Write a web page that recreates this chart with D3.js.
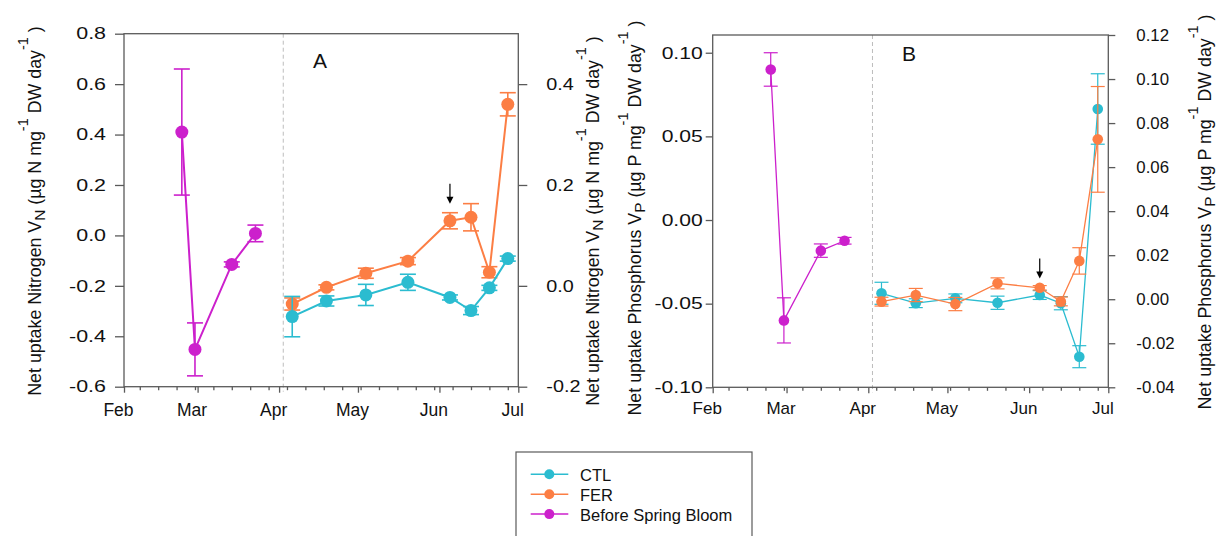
<!DOCTYPE html>
<html><head><meta charset="utf-8">
<script src="https://cdn.jsdelivr.net/npm/d3@7"></script>
<style>
body{margin:0;background:#fff;}
svg{display:block;font-family:"Liberation Sans",Arial,sans-serif;}
</style></head><body>
<svg id="chart" width="1223" height="536"></svg>
<script>
// ---------------- DATA ----------------
const monthTicks = ["2015-02-01","2015-03-01","2015-04-01","2015-05-01","2015-06-01","2015-07-01"];
const bloomDates = ["2015-02-23","2015-02-28","2015-03-14","2015-03-23"];
const expDates = ["2015-04-06","2015-04-19","2015-05-04","2015-05-20","2015-06-05","2015-06-13","2015-06-20","2015-06-27"];
const fertStart = "2015-04-02T14:00:00Z";
const arrowIndex = 4;

const seriesNames = ["CTL","FER","Before Spring Bloom"];

// Panel A – nitrogen
const bloomN    = [0.410, -0.452, -0.115, 0.008];
const bloomNErr = [0.250, 0.105, 0.010, 0.033];
const ctlN      = [-0.061, -0.030, -0.018, 0.007, -0.023, -0.049, -0.004, 0.054];
const ctlNErr   = [0.040, 0.010, 0.021, 0.016, 0.005, 0.008, 0.005, 0.005];
const ferN      = [-0.036, -0.003, 0.025, 0.049, 0.129, 0.136, 0.027, 0.360];
const ferNErr   = [0.012, 0.005, 0.010, 0.007, 0.016, 0.027, 0.011, 0.023];

// Panel B – phosphorus
const bloomP    = [0.090, -0.060, -0.0183, -0.0124];
const bloomPErr = [0.010, 0.0135, 0.004, 0.002];
const ctlP      = [0.0027, -0.0018, 0.0004, -0.0016, 0.0019, -0.0018, -0.0261, 0.0864];
const ctlPErr   = [0.005, 0.002, 0.002, 0.003, 0.002, 0.003, 0.005, 0.016];
const ferP      = [-0.0011, 0.0019, -0.0022, 0.0072, 0.0052, -0.0010, 0.0174, 0.0726];
const ferPErr   = [0.002, 0.003, 0.003, 0.0025, 0.001, 0.002, 0.006, 0.024];

const nLeftTicks  = [-0.6,-0.4,-0.2,0,0.2,0.4,0.6,0.8];
const nRightTicks = [-0.2,0,0.2,0.4];
const pLeftTicks  = [-0.10,-0.05,0,0.05,0.10];
const pRightTicks = [-0.04,-0.02,0,0.02,0.04,0.06,0.08,0.10,0.12];

// ---------------- STYLE ----------------
const C_CTL = "#2bbcd0", C_FER = "#fc7e44", C_BLOOM = "#cc20cc";
const AX = "#5a5a5a";
const loc = d3.formatLocale({decimal:".", thousands:",", grouping:[3], currency:["",""], minus:"-"});
const svg = d3.select("#chart");
const P = s => new Date(s.length > 10 ? s : s + "T00:00:00Z");

function drawPanel(cfg) {
  const x = d3.scaleUtc().domain([P(monthTicks[0]), P(monthTicks[monthTicks.length-1])]).range([cfg.x0, cfg.x1]);
  const yL = d3.scaleLinear().domain(cfg.left).range([cfg.y1, cfg.y0]);
  const yR = d3.scaleLinear().domain(cfg.right).range([cfg.y1, cfg.y0]);
  const g = svg.append("g");

  // dashed line (start of experiment)
  g.append("line").attr("x1", x(P(fertStart))).attr("x2", x(P(fertStart)))
    .attr("y1", cfg.y0).attr("y2", cfg.y1 + 5)
    .attr("stroke", "#bdbdbd").attr("stroke-width", 1).attr("stroke-dasharray", "4,3");

  // frame
  g.append("rect").attr("x", cfg.x0).attr("y", cfg.y0)
    .attr("width", cfg.x1 - cfg.x0).attr("height", cfg.y1 - cfg.y0)
    .attr("fill", "none").attr("stroke", AX).attr("stroke-width", 1.3);

  const styleAxis = (sel, fs, sx) => {
    sel.select(".domain").remove();
    sel.selectAll("line").attr("stroke", AX).attr("stroke-width", 1.3);
    sel.selectAll("text").attr("fill", "#111").style("font-size", fs + "px")
      .style("font-family", '"Liberation Sans", Arial, sans-serif');
    if (sx && sx !== 1) {
      sel.selectAll("text").each(function() {
        const t = d3.select(this);
        t.attr("x", (+t.attr("x")) / sx).attr("transform", `scale(${sx},1)`);
      });
    }
  };

  // left axis
  g.append("g").attr("transform", `translate(${cfg.x0},0)`)
    .call(d3.axisLeft(yL).tickValues(cfg.leftTicks).tickSize(cfg.tickL).tickPadding(cfg.padL).tickFormat(loc.format(cfg.fmt)))
    .call(s => styleAxis(s, cfg.fsTick, cfg.sxL));
  // right axis
  g.append("g").attr("transform", `translate(${cfg.x1},0)`)
    .call(d3.axisRight(yR).tickValues(cfg.rightTicks).tickSize(cfg.tickR).tickPadding(cfg.padR).tickFormat(loc.format(cfg.fmt)))
    .call(s => styleAxis(s, cfg.fsTick, cfg.sxR));
  // bottom axis minor (weekly)
  g.append("g").attr("transform", `translate(0,${cfg.y1})`)
    .call(d3.axisBottom(x).tickValues(d3.utcSaturday.range(x.domain()[0], x.domain()[1])).tickSize(3.5).tickFormat(""))
    .call(s => styleAxis(s, 10, 1));
  // bottom axis major (months)
  g.append("g").attr("transform", `translate(0,${cfg.y1})`)
    .call(d3.axisBottom(x).tickValues(monthTicks.map(P)).tickSize(6).tickPadding(cfg.padX).tickFormat(d3.utcFormat("%b")))
    .call(s => styleAxis(s, cfg.fsMonth, 1))
    .call(s => s.selectAll("text").attr("dx", -6));

  // series
  const drawSeries = (dates, vals, errs, y, color) => {
    const pts = dates.map((d, i) => ({x: x(P(d)), v: vals[i], e: errs[i]}));
    g.append("path").datum(pts)
      .attr("d", d3.line().x(p => p.x).y(p => y(p.v)))
      .attr("fill", "none").attr("stroke", color).attr("stroke-width", cfg.lw);
    const eb = g.append("g").attr("stroke", color).attr("stroke-width", cfg.ew);
    pts.forEach(p => {
      const yt = y(p.v + p.e), yb = y(p.v - p.e);
      eb.append("line").attr("x1", p.x).attr("x2", p.x).attr("y1", yt).attr("y2", yb);
      eb.append("line").attr("x1", p.x - cfg.cap).attr("x2", p.x + cfg.cap).attr("y1", yt).attr("y2", yt);
      eb.append("line").attr("x1", p.x - cfg.cap).attr("x2", p.x + cfg.cap).attr("y1", yb).attr("y2", yb);
    });
    g.append("g").selectAll("circle").data(pts).join("circle")
      .attr("cx", p => p.x).attr("cy", p => y(p.v)).attr("r", cfg.r).attr("fill", color);
  };

  drawSeries(bloomDates, cfg.bloom, cfg.bloomErr, yL, C_BLOOM);
  cfg.order.forEach(k => {
    if (k === "ctl") drawSeries(expDates, cfg.ctl, cfg.ctlErr, yR, C_CTL);
    else drawSeries(expDates, cfg.fer, cfg.ferErr, yR, C_FER);
  });

  // arrow above FER point
  const ax = x(P(expDates[arrowIndex]));
  const tip = yR(cfg.fer[arrowIndex] + cfg.ferErr[arrowIndex]) - cfg.arrowGap;
  g.append("line").attr("x1", ax).attr("x2", ax).attr("y1", tip - 20).attr("y2", tip - 6)
    .attr("stroke", "#000").attr("stroke-width", 1.2);
  g.append("path").attr("d", `M${ax-3.5},${tip-7} L${ax+3.5},${tip-7} L${ax},${tip} Z`).attr("fill", "#000");

  // panel letter
  g.append("text").attr("x", cfg.letterX).attr("y", cfg.letterY).text(cfg.letter)
    .style("font-size", "21px").attr("fill", "#111");

  // y titles
  const title = (tx, ty, parts) => {
    const t = g.append("text").attr("transform", `translate(${tx},${ty}) rotate(-90)`)
      .attr("text-anchor", "middle").attr("fill", "#111").style("font-size", cfg.fsTitle + "px");
    let shift = 0;
    parts.forEach(([s, kind]) => {
      const target = kind === "sup" ? -cfg.supShift : kind === "sub" ? cfg.subShift : 0;
      const ts = t.append("tspan").text(s).attr("dy", target - shift);
      if (kind) ts.style("font-size", (kind === "sup" ? cfg.fsSup : cfg.fsSub) + "px");
      shift = target;
    });
  };
  title(cfg.tLx, cfg.tLy, cfg.titleParts);
  title(cfg.tRx, cfg.tRy, cfg.titleParts);
}

const nTitle = [["Net uptake Nitrogen V",null],["N","sub"],[" (µg N mg",null],["-1","sup"],[" DW day",null],["-1","sup"],[" )",null]];
const pTitle = [["Net uptake Phosphorus V",null],["P","sub"],[" (µg P mg",null],["-1","sup"],[" DW day",null],["-1","sup"],[" )",null]];

drawPanel({
  x0:124, x1:518.3, y0:33.7, y1:386.7,
  left:[-0.6,0.8], right:[-0.2,0.5], leftTicks:nLeftTicks, rightTicks:nRightTicks, fmt:".1f",
  tickL:9, tickR:9, padL:9, padR:19, padX:11, fsTick:16.5, fsMonth:17.5, sxL:1.3, sxR:1.2,
  bloom:bloomN, bloomErr:bloomNErr, ctl:ctlN, ctlErr:ctlNErr, fer:ferN, ferErr:ferNErr,
  order:["fer","ctl"], r:6.5, lw:2, ew:1.6, cap:8, arrowGap:9,
  letter:"A", letterX:313, letterY:68,
  fsTitle:17.8, fsSup:14.5, fsSub:15.5, supShift:13, subShift:4,
  tLx:41, tLy:211, tRx:599, tRy:221, titleParts:nTitle
});

drawPanel({
  x0:712.7, x1:1108.3, y0:35, y1:387.3,
  left:[-0.10,0.1106], right:[-0.04,0.12], leftTicks:pLeftTicks, rightTicks:pRightTicks, fmt:".2f",
  tickL:7, tickR:7, padL:3, padR:21, padX:9, fsTick:16.5, fsMonth:17, sxL:1.28, sxR:1.02,
  bloom:bloomP, bloomErr:bloomPErr, ctl:ctlP, ctlErr:ctlPErr, fer:ferP, ferErr:ferPErr,
  order:["ctl","fer"], r:5.3, lw:1.3, ew:1.2, cap:7, arrowGap:7,
  letter:"B", letterX:902, letterY:61,
  fsTitle:17.8, fsSup:14.5, fsSub:15.5, supShift:13, subShift:4,
  tLx:641, tLy:218, tRx:1211, tRy:212, titleParts:pTitle
});

// ---------------- LEGEND ----------------
const lg = svg.append("g");
lg.append("rect").attr("x", 516).attr("y", 452).attr("width", 236).attr("height", 100)
  .attr("fill", "#fff").attr("stroke", AX).attr("stroke-width", 1.2);
const legColors = [C_CTL, C_FER, C_BLOOM];
seriesNames.forEach((name, i) => {
  const y = 474.3 + i * 19.9;
  lg.append("line").attr("x1", 530.7).attr("x2", 568.3).attr("y1", y).attr("y2", y)
    .attr("stroke", legColors[i]).attr("stroke-width", 1.5);
  lg.append("circle").attr("cx", 549.3).attr("cy", y).attr("r", 5).attr("fill", legColors[i]);
  lg.append("text").attr("x", 580).attr("y", y + 6.5).text(name)
    .style("font-size", "16.5px").attr("fill", "#111");
});
</script>
</body></html>
